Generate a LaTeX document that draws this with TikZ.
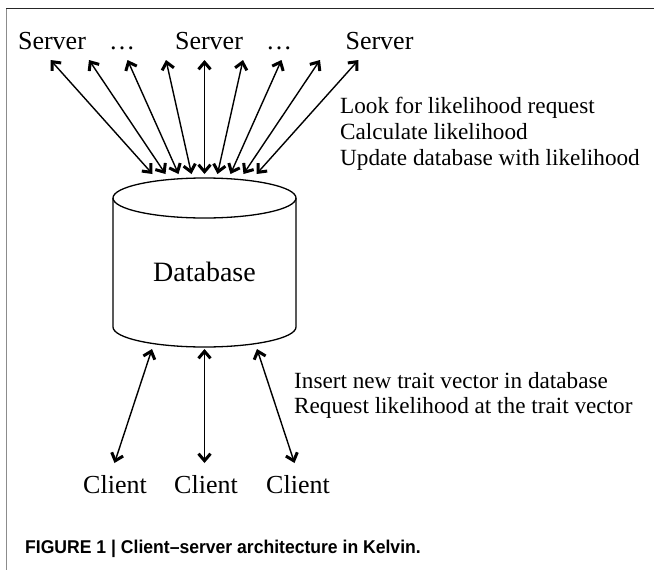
\documentclass[tikz,border=0pt]{standalone}
\usepackage{fontspec}
\usepackage{graphicx}
\setmainfont{Liberation Serif}
\setsansfont{Liberation Sans}
\usetikzlibrary{arrows.meta}
\begin{document}
\begin{tikzpicture}[x=1pt,y=1pt,
  lbl/.style={inner sep=0pt, anchor=base, font=\fontsize{26}{30}\selectfont},
  note/.style={inner sep=0pt, anchor=base west, font=\fontsize{23.2}{26}\selectfont},
  tipb/.tip={Straight Barb[length=7pt,width=12pt,line width=3pt]},
  biarrow/.style={line width=1.4pt, tipb-tipb},
  dbline/.style={line width=1.3pt}]
\useasboundingbox (0,0) rectangle (654,-570);
\fill[white] (0,0) rectangle (654,-570);
\draw[line width=1.5pt, black!85] (6,-8.5) -- (654,-8.5);
\draw[line width=1.5pt, black!45] (6.5,-8.5) -- (6.5,-570);
% servers
\node[lbl] (srv1) at (52,-49) {Server};
\node[lbl] (dots1) at (122,-49) {…};
\node[lbl] (srv2) at (209,-49) {Server};
\node[lbl] (dots2) at (279,-49) {…};
\node[lbl] (srv3) at (379.5,-49) {Server};
% database cylinder
\draw[dbline] (113,-198) -- (113,-327) arc[start angle=180,end angle=360,x radius=91.5,y radius=20] -- (296,-198);
\draw[dbline] (204.5,-198) ellipse [x radius=91.5, y radius=20];
\node[lbl, font=\fontsize{28}{30}\selectfont] (db) at (204.5,-281) {Database};
% server arrows
\foreach \k [count=\i] in {-4,...,4} {
  \coordinate (s\i) at ({204.5+38.5*\k},-60);
  \coordinate (d\i) at ({204.5+13*\k},-174);
  \draw[biarrow] (s\i) -- (d\i);
}
% notes
\node[note] (n1) at (340,-113) {Look for likelihood request};
\node[note] (n2) at (340,-139) {Calculate likelihood};
\node[note] (n3) at (340,-165) {Update database with likelihood};
\node[note] (n4) at (294,-388) {Insert new trait vector in database};
\node[note] (n5) at (294,-413) {Request likelihood at the trait vector};
% client arrows
\coordinate (u1) at (152,-349);
\coordinate (u2) at (204.5,-349);
\coordinate (u3) at (257,-349);
\coordinate (c1) at (114.5,-463);
\coordinate (c2) at (204.5,-463);
\coordinate (c3) at (294.5,-463);
\foreach \i in {1,2,3} { \draw[biarrow] (u\i) -- (c\i); }
\node[lbl] (cl1) at (115,-493) {Client};
\node[lbl] (cl2) at (206,-493) {Client};
\node[lbl] (cl3) at (298,-493) {Client};
% caption
\node[inner sep=0pt, anchor=base west, font=\sffamily\bfseries\fontsize{18.5}{20}\selectfont] (cap) at (25,-553) {\scalebox{0.95}[1]{FIGURE 1 | Client–server architecture in Kelvin.}};
\end{tikzpicture}
\end{document}
